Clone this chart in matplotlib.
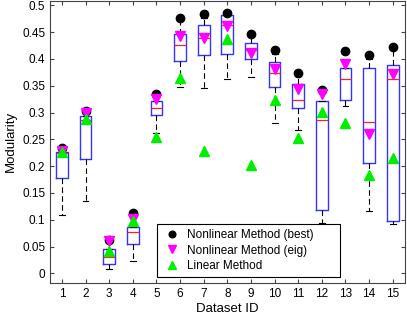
import matplotlib
matplotlib.use("Agg")
import matplotlib.pyplot as plt

plt.rcParams['font.family'] = ['Liberation Sans', 'DejaVu Sans']

dataset_ids = list(range(1, 16))

# box statistics per dataset
q1 = [0.178, 0.214, 0.017, 0.055, 0.296, 0.396, 0.407, 0.409, 0.399, 0.347, 0.308, 0.118, 0.324, 0.205, 0.098]
med = [0.225, 0.286, 0.030, 0.078, 0.309, 0.425, 0.439, 0.463, 0.416, 0.373, 0.323, 0.286, 0.362, 0.283, 0.362]
q3 = [0.227, 0.294, 0.045, 0.086, 0.322, 0.446, 0.463, 0.481, 0.429, 0.394, 0.353, 0.321, 0.383, 0.383, 0.389]
whis_lo = [0.109, 0.135, 0.008, 0.023, 0.262, 0.347, 0.345, 0.363, 0.366, 0.281, 0.267, 0.094, 0.313, 0.117, 0.093]
whis_hi = [0.227, 0.294, 0.045, 0.086, 0.322, 0.470, 0.477, 0.481, 0.442, 0.410, 0.368, 0.321, 0.383, 0.400, 0.417]

best = [0.233, 0.302, 0.062, 0.113, 0.335, 0.476, 0.483, 0.485, 0.447, 0.416, 0.374, 0.342, 0.415, 0.407, 0.423]
eig = [0.229, 0.299, 0.060, 0.102, 0.325, 0.443, 0.438, 0.461, 0.411, 0.381, 0.343, 0.335, 0.391, 0.260, 0.372]
linear = [0.226, 0.288, 0.042, 0.098, 0.255, 0.365, 0.229, 0.437, 0.202, 0.324, 0.253, 0.301, 0.280, 0.184, 0.216]

stats = []
for i in range(len(dataset_ids)):
    stats.append(dict(q1=q1[i], med=med[i], q3=q3[i], whislo=whis_lo[i], whishi=whis_hi[i], fliers=[]))

fig = plt.figure(figsize=(4.07, 3.16), dpi=100)
ax = fig.add_axes([0.123, 0.105, 0.871, 0.892])

ax.bxp(stats, positions=dataset_ids, widths=0.5, showfliers=False,
       boxprops=dict(color='#3333ff', linewidth=1.0),
       medianprops=dict(color='#ff2020', linewidth=0.9),
       whiskerprops=dict(color='black', linewidth=0.8, linestyle=(0, (5, 3))),
       capprops=dict(color='black', linewidth=0.8),
       capwidths=0.25)

ax.plot(dataset_ids, best, 'o', color='black', markersize=6, linestyle='none',
        label='Nonlinear Method (best)', zorder=5)
ax.plot(dataset_ids, eig, 'v', color='#ff00ff', markersize=6.8, linestyle='none',
        label='Nonlinear Method (eig)', zorder=6)
ax.plot(dataset_ids, linear, '^', color='#00ee00', markersize=6.8, linestyle='none',
        label='Linear Method', zorder=7)

ax.set_xlim(0.5, 15.5)
ax.set_ylim(-0.0175, 0.508)
ax.set_xticks(dataset_ids)
ax.set_xticklabels([str(d) for d in dataset_ids])
ax.set_yticks([0, 0.05, 0.1, 0.15, 0.2, 0.25, 0.3, 0.35, 0.4, 0.45, 0.5])
ax.set_yticklabels(['0', '0.05', '0.1', '0.15', '0.2', '0.25', '0.3', '0.35', '0.4', '0.45', '0.5'])
ax.tick_params(direction='in', top=True, right=True, labelsize=8.5, length=3, color='#444444')
for s in ax.spines.values():
    s.set_color('#444444')
    s.set_linewidth(0.8)

ax.set_xlabel('Dataset ID', fontsize=9.5, labelpad=2.5)
ax.set_ylabel('Modularity', fontsize=9.5)

leg = ax.legend(loc='lower left', bbox_to_anchor=(0.301, 0.0213, 0.516, 0.17), mode='expand',
                borderaxespad=0, fontsize=8.5, markerscale=0.8,
                fancybox=False, edgecolor='black', framealpha=1,
                handlelength=1.75, handletextpad=0.45, borderpad=0.4, labelspacing=0.3)
leg.get_frame().set_linewidth(0.8)

fig.savefig('out.png', dpi=100)
